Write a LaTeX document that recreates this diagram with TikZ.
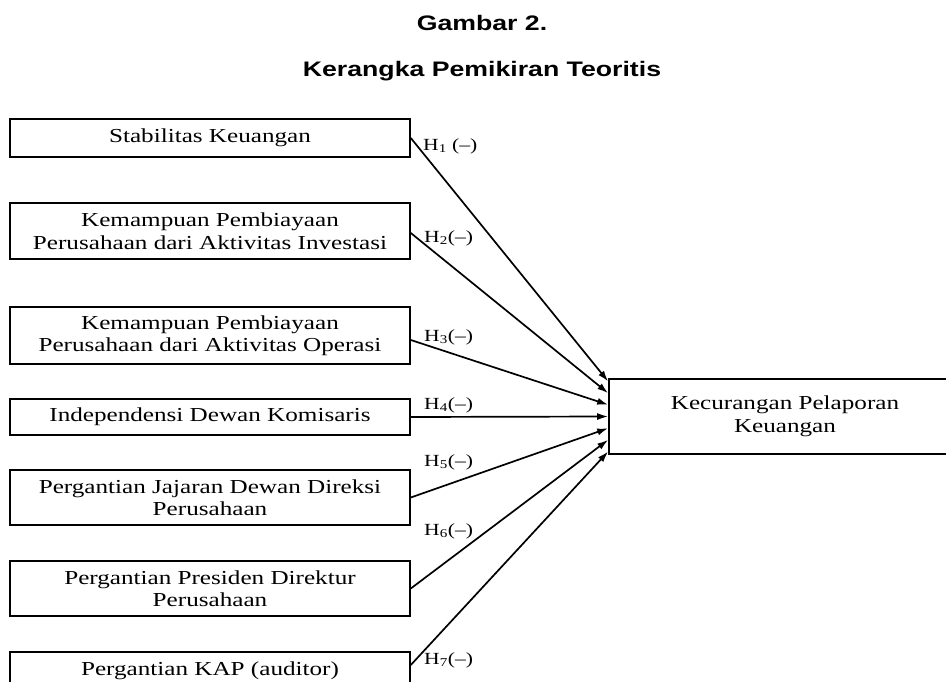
\documentclass[tikz,border=0pt]{standalone}
\usepackage{fontspec}
\setmainfont{Liberation Serif}[FakeStretch=1.27]
\newfontfamily\titlefont{Liberation Sans}[FakeStretch=1.27]
\usetikzlibrary{arrows.meta}

\tikzset{
  varbox/.style={draw, line width=1.6pt, minimum width=400pt, inner sep=0pt,
    align=center, font=\fontsize{19.8}{22.5}\selectfont},
  arr/.style={line width=1.7pt, -{Latex[length=11pt,width=7pt]}},
  hlabel/.style={anchor=west, inner sep=0pt, font=\fontsize{17}{19}\selectfont}
}

\begin{document}
\begin{tikzpicture}[x=1pt, y=-1pt]
  \path[use as bounding box, clip] (0,0) rectangle (946,682);
  \fill[white] (0,0) rectangle (946,682);
  % --- title ---
  \node[anchor=base, font=\titlefont\bfseries\fontsize{21}{24}\selectfont] (judul) at (482,31) {Gambar 2.};
  \node[anchor=base, font=\titlefont\bfseries\fontsize{21}{24}\selectfont] (subjudul) at (482,77) {Kerangka Pemikiran Teoritis};
  % --- independent variables ---
  \node[varbox, minimum height=38pt] (x1) at (210,138) {Stabilitas Keuangan};
  \node[varbox, minimum height=56pt] (x2) at (210,231) {Kemampuan Pembiayaan\\Perusahaan dari Aktivitas Investasi};
  \node[varbox, minimum height=57pt] (x3) at (210,335.5) {Kemampuan Pembiayaan\\Perusahaan dari Aktivitas Operasi};
  \node[varbox, minimum height=36pt] (x4) at (210,417) {Independensi Dewan Komisaris};
  \node[varbox, minimum height=55pt] (x5) at (210,497.5) {Pergantian Jajaran Dewan Direksi\\Perusahaan};
  \node[varbox, minimum height=55pt] (x6) at (210,588.5) {Pergantian Presiden Direktur\\Perusahaan};
  \node[varbox, minimum height=38pt] (x7) at (210,671) {Pergantian KAP (auditor)};
  % --- dependent variable ---
  \node[varbox, minimum width=352pt, minimum height=75pt] (y) at (785,416.5) {Kecurangan Pelaporan\\Keuangan};
  % --- hypotheses arrows ---
  \foreach \i/\sy/\ey in {1/0/35, 2/-2/23.3, 3/-4.5/11.7, 4/0/0, 5/0/-11.7, 6/0/-23.3, 7/6/-35}{
    \draw[arr] ([yshift=\sy pt]x\i.east) -- ([yshift=\ey pt]y.west);
  }
  % hypothesis labels
  \node[hlabel] (h1) at (423,146) {H\textsubscript{1} (--)};
  \foreach \i/\ly in {2/238, 3/337, 4/405, 5/462, 6/531, 7/660}{
    \node[hlabel] (h\i) at (424,\ly) {H\textsubscript{\i}(--)};
  }
\end{tikzpicture}
\end{document}
